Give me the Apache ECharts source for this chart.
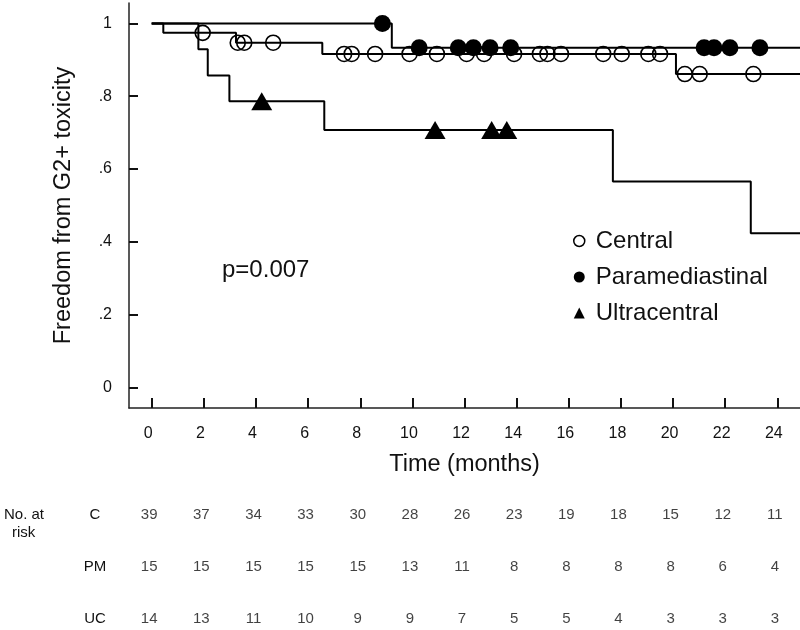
<!DOCTYPE html>
<html>
<head>
<meta charset="utf-8">
<script src="https://cdn.jsdelivr.net/npm/echarts@6/dist/echarts.min.js"></script>
<style>
html,body{margin:0;padding:0;background:#fff;}
#chart{width:800px;height:630px;}
</style>
</head>
<body>
<div id="chart"></div>
<script>
// ---- data ----
const xTickValues = [0,2,4,6,8,10,12,14,16,18,20,22,24];
const yTickValues = [0,0.2,0.4,0.6,0.8,1];
const yTickLabels = ['0','.2','.4','.6','.8','1'];

// Kaplan-Meier step curves (time, survival)
const centralTimes = [0, 0.445, 3.234, 6.544, 20.11, 26];
const centralSurv  = [1, 0.974, 0.947, 0.916, 0.861, 0.861];
const pmTimes = [0, 9.21, 26];
const pmSurv  = [1, 0.933, 0.933];
const ucTimes = [0, 1.79, 2.15, 2.98, 6.62, 17.69, 22.98, 26];
const ucSurv  = [1, 0.929, 0.857, 0.786, 0.707, 0.566, 0.424, 0.424];

// censoring marks
const centralCensT = [1.956,3.30,3.55,4.66,7.38,7.67,8.57,9.89,10.94,12.08,12.75,13.90,14.89,15.18,15.70,17.32,18.03,19.05,19.50,20.45,21.02,23.08];
const centralCensS = [0.974,0.947,0.947,0.947,0.916,0.916,0.916,0.916,0.916,0.916,0.916,0.916,0.916,0.916,0.916,0.916,0.916,0.916,0.916,0.861,0.861,0.861];
const pmCensT = [8.85,10.26,11.76,12.34,12.98,13.77,21.19,21.57,22.18,23.33];
const pmCensS = [1,0.933,0.933,0.933,0.933,0.933,0.933,0.933,0.933,0.933];
const ucCensT = [4.22,10.87,13.04,13.62];
const ucCensS = [0.786,0.707,0.707,0.707];

// number at risk
const riskGroups = ['C','PM','UC'];
const riskC  = [39,37,34,33,30,28,26,23,19,18,15,12,11];
const riskPM = [15,15,15,15,15,13,11,8,8,8,8,6,4];
const riskUC = [14,13,11,10,9,9,7,5,5,4,3,3,3];

const pValueText = 'p=0.007';
const seriesNames = ['Central','Paramediastinal','Ultracentral'];

// ---- build ----
const zip = (a,b) => a.map((v,i)=>[v,b[i]]);
const FONT = "'Liberation Sans', Arial, Helvetica, sans-serif";
const X_MIN = -0.871, X_MAX = 24.868;

const riskData = [];
[riskC, riskPM, riskUC].forEach((arr, gi) => {
  arr.forEach((n, i) => riskData.push([xTickValues[i], gi, n]));
});

const lineStyleBase = {color:'#000', width:2};

const chart = echarts.init(document.getElementById('chart'), null, {renderer:'canvas'});
chart.setOption({
  backgroundColor:'#fff',
  animation:false,
  textStyle:{fontFamily:FONT},
  grid:[
    {left:129, right:0, top:3, height:405},
    {left:129, right:0, top:515, height:104}
  ],
  xAxis:[
    {
      type:'value', gridIndex:0, min:X_MIN, max:X_MAX,
      splitLine:{show:false},
      axisLine:{show:true, onZero:false, lineStyle:{color:'#222', width:1.5}},
      axisTick:{show:true, inside:true, length:10, customValues:xTickValues, lineStyle:{color:'#111', width:2}},
      axisLabel:{show:true, customValues:xTickValues, margin:18, fontSize:16, color:'#111', fontFamily:FONT, padding:[0,7,0,0]},
      name:'Time (months)', nameLocation:'middle', nameGap:45,
      nameTextStyle:{fontSize:23.5, color:'#111', fontFamily:FONT}
    },
    {
      type:'value', gridIndex:1, min:X_MIN, max:X_MAX, show:false
    }
  ],
  yAxis:[
    {
      type:'value', gridIndex:0, min:-0.056, max:1.056,
      splitLine:{show:false},
      axisLine:{show:true, onZero:false, lineStyle:{color:'#222', width:1.5}},
      axisTick:{show:true, inside:true, length:9, customValues:yTickValues, lineStyle:{color:'#111', width:2}},
      axisLabel:{show:true, customValues:yTickValues, margin:17, fontSize:16, color:'#111', fontFamily:FONT,
        formatter:function(v){ let best=0; yTickValues.forEach((t,i)=>{ if(Math.abs(t-v)<Math.abs(yTickValues[best]-v)) best=i; }); return yTickLabels[best]; }},
      name:'Freedom from G2+ toxicity', nameLocation:'middle', nameGap:53,
      nameTextStyle:{fontSize:23.5, color:'#111', fontFamily:FONT}
    },
    {
      type:'category', gridIndex:1, data:riskGroups, inverse:true, boundaryGap:false,
      axisLine:{show:false}, axisTick:{show:false}, splitLine:{show:false},
      axisLabel:{show:true, margin:34, align:'center', fontSize:15, color:'#111', fontFamily:FONT}
    }
  ],
  legend:{
    orient:'vertical', left:573, top:229, padding:0, itemWidth:11, itemHeight:11, itemGap:12,
    selectedMode:false,
    textStyle:{fontSize:24, color:'#111', fontFamily:FONT, padding:[0,0,0,6]},
    data:[
      {name:seriesNames[0], icon:'circle', itemStyle:{color:'#fff', borderColor:'#000', borderWidth:1.5}},
      {name:seriesNames[1], icon:'circle', itemStyle:{color:'#000', borderWidth:0}},
      {name:seriesNames[2], icon:'triangle', itemStyle:{color:'#000', borderWidth:0}}
    ]
  },
  graphic:[
    {type:'text', left:222, top:258, style:{text:pValueText, fontSize:24, fill:'#111', fontFamily:FONT}},
    {type:'text', left:4, top:507, style:{text:'No. at', fontSize:15, fill:'#111', fontFamily:FONT}},
    {type:'text', left:12, top:525, style:{text:'risk', fontSize:15, fill:'#111', fontFamily:FONT}}
  ],
  series:[
    {name:'Central curve', type:'line', step:'end', data:zip(centralTimes,centralSurv), symbol:'none', lineStyle:lineStyleBase, silent:true, z:2},
    {name:'PM curve', type:'line', step:'end', data:zip(pmTimes,pmSurv), symbol:'none', lineStyle:lineStyleBase, silent:true, z:2},
    {name:'UC curve', type:'line', step:'end', data:zip(ucTimes,ucSurv), symbol:'none', lineStyle:lineStyleBase, silent:true, z:2},
    {name:seriesNames[0], type:'scatter', data:zip(centralCensT,centralCensS), symbol:'circle', symbolSize:15,
      itemStyle:{color:'rgba(255,255,255,0)', borderColor:'#000', borderWidth:1.6, opacity:1}, z:5, silent:true},
    {name:seriesNames[1], type:'scatter', data:zip(pmCensT,pmCensS), symbol:'circle', symbolSize:17,
      itemStyle:{color:'#000', borderWidth:0, opacity:1}, z:6, silent:true},
    {name:seriesNames[2], type:'scatter', data:zip(ucCensT,ucCensS), symbol:'triangle', symbolSize:[21,18],
      itemStyle:{color:'#000', opacity:1}, z:6, silent:true},
    {name:'risk', type:'scatter', xAxisIndex:1, yAxisIndex:1, data:riskData, symbolSize:0, silent:true,
      label:{show:true, position:'inside', formatter:p=>String(p.value[2]), fontSize:15, color:'#111', fontFamily:FONT, offset:[-2.5,0]}}
  ]
});
</script>
</body>
</html>
